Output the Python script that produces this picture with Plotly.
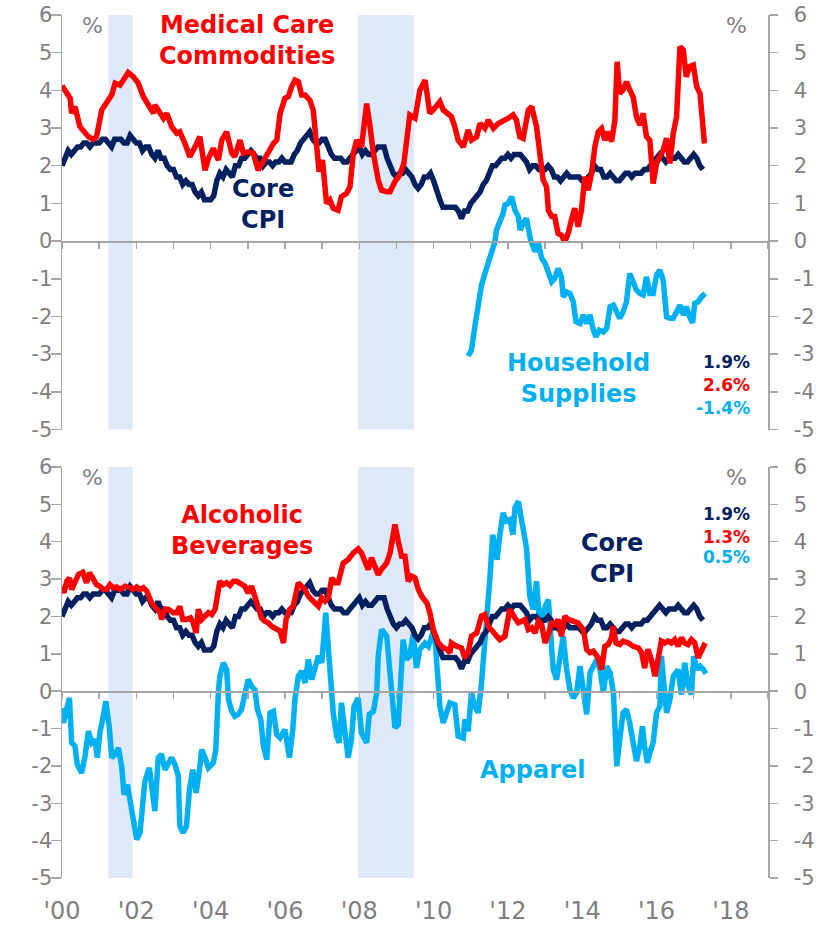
import plotly.graph_objects as go

# ---------------- DATA ----------------
core_start = 2000.0
core_cpi = [
    2.0, 2.2, 2.4, 2.3, 2.4, 2.5, 2.5, 2.6, 2.6, 2.5, 2.6, 2.6,
    2.6, 2.7, 2.7, 2.6, 2.5, 2.7, 2.7, 2.7, 2.6, 2.6, 2.8, 2.7,
    2.6, 2.6, 2.4, 2.5, 2.5, 2.3, 2.2, 2.4, 2.2, 2.2, 2.0, 1.9,
    1.9, 1.7, 1.7, 1.5, 1.6, 1.5, 1.5, 1.3, 1.2, 1.3, 1.1, 1.1,
    1.1, 1.2, 1.6, 1.8, 1.7, 1.9, 1.8, 1.7, 2.0, 2.0, 2.2, 2.2,
    2.3, 2.4, 2.3, 2.2, 2.2, 2.0, 2.1, 2.1, 2.0, 2.1, 2.1, 2.2,
    2.1, 2.1, 2.1, 2.3, 2.4, 2.6, 2.7, 2.8, 2.9, 2.7, 2.6, 2.6,
    2.7, 2.7, 2.5, 2.3, 2.2, 2.2, 2.2, 2.1, 2.1, 2.2, 2.3, 2.4,
    2.5, 2.3, 2.4, 2.3, 2.3, 2.4, 2.5, 2.5, 2.5, 2.2, 2.0, 1.8,
    1.7, 1.8, 1.8, 1.9, 1.8, 1.7, 1.5, 1.4, 1.5, 1.7, 1.7, 1.8,
    1.6, 1.3, 1.1, 0.9, 0.9, 0.9, 0.9, 0.9, 0.8, 0.6, 0.8, 0.8,
    1.0, 1.1, 1.2, 1.3, 1.5, 1.6, 1.8, 2.0, 2.0, 2.1, 2.2, 2.2,
    2.3, 2.2, 2.3, 2.3, 2.3, 2.2, 2.1, 1.9, 2.0, 2.0, 1.9, 1.9,
    1.9, 2.0, 1.9, 1.7, 1.7, 1.6, 1.7, 1.8, 1.7, 1.7, 1.7, 1.7,
    1.6, 1.6, 1.7, 1.8, 2.0, 1.9, 1.9, 1.7, 1.7, 1.8, 1.7, 1.6,
    1.6, 1.7, 1.8, 1.8, 1.7, 1.8, 1.8, 1.8, 1.9, 1.9, 2.0, 2.1,
    2.2, 2.3, 2.2, 2.1, 2.2, 2.2, 2.2, 2.3, 2.2, 2.1, 2.1, 2.2,
    2.3, 2.2, 2.0, 1.9,
]
core_dates = [core_start + i / 12 for i in range(len(core_cpi))]

med_dates = [
    2000.00, 2000.13, 2000.22, 2000.26, 2000.35, 2000.48, 2000.62, 2000.71, 2000.84, 2000.93,
    2001.07, 2001.20, 2001.34, 2001.43, 2001.56, 2001.65, 2001.78, 2001.92, 2002.05, 2002.19,
    2002.32, 2002.46, 2002.50, 2002.64, 2002.73, 2002.82, 2002.95, 2003.09, 2003.17, 2003.31,
    2003.44, 2003.58, 2003.71, 2003.85, 2003.94, 2004.07, 2004.21, 2004.30, 2004.43, 2004.57,
    2004.65, 2004.79, 2004.88, 2005.01, 2005.15, 2005.28, 2005.42, 2005.55, 2005.69, 2005.78,
    2005.87, 2006.00, 2006.09, 2006.18, 2006.27, 2006.36, 2006.45, 2006.54, 2006.67, 2006.76,
    2006.85, 2006.92, 2007.01, 2007.12, 2007.21, 2007.30, 2007.43, 2007.52, 2007.66, 2007.75,
    2007.84, 2007.93, 2008.06, 2008.20, 2008.29, 2008.38, 2008.51, 2008.60, 2008.74, 2008.83,
    2008.96, 2009.09, 2009.20, 2009.28, 2009.36, 2009.50, 2009.63, 2009.77, 2009.90, 2009.99,
    2010.08, 2010.17, 2010.26, 2010.35, 2010.48, 2010.57, 2010.66, 2010.80, 2010.93, 2011.02,
    2011.16, 2011.25, 2011.38, 2011.47, 2011.61, 2011.74, 2011.87, 2012.01, 2012.14, 2012.23,
    2012.32, 2012.41, 2012.55, 2012.64, 2012.77, 2012.86, 2012.95, 2013.04, 2013.09, 2013.18,
    2013.26, 2013.35, 2013.44, 2013.53, 2013.62, 2013.71, 2013.80, 2013.89, 2013.98, 2014.07,
    2014.16, 2014.25, 2014.34, 2014.43, 2014.52, 2014.61, 2014.70, 2014.79, 2014.88, 2014.94,
    2015.01, 2015.10, 2015.19, 2015.28, 2015.37, 2015.46, 2015.55, 2015.64, 2015.73, 2015.82,
    2015.91, 2016.00, 2016.09, 2016.18, 2016.27, 2016.36, 2016.45, 2016.54, 2016.63, 2016.72,
    2016.80, 2016.89, 2016.99, 2017.08, 2017.17, 2017.21, 2017.29,
]
med_care = [
    4.12, 3.92, 3.79, 3.39, 3.57, 3.04, 2.86, 2.77, 2.70, 2.77,
    3.48, 3.70, 3.88, 4.19, 4.14, 4.27, 4.47, 4.36, 4.19, 3.83,
    3.61, 3.39, 3.61, 3.39, 3.26, 3.39, 3.04, 2.86, 2.90, 2.59,
    2.24, 2.50, 2.77, 1.88, 2.19, 2.46, 2.15, 2.68, 2.90, 2.33,
    2.24, 2.68, 2.33, 2.37, 2.33, 1.88, 2.15, 2.37, 2.59, 2.68,
    3.39, 3.79, 3.83, 4.10, 4.27, 4.23, 3.88, 3.88, 3.74, 3.48,
    2.42, 1.84, 2.15, 1.00, 1.09, 0.87, 0.82, 1.18, 1.27, 1.44,
    2.33, 2.68, 2.50, 3.65, 3.04, 2.33, 1.62, 1.35, 1.31, 1.31,
    1.58, 1.75, 2.06, 2.68, 3.35, 3.26, 4.00, 4.27, 3.39, 3.48,
    3.57, 3.70, 3.48, 3.39, 3.30, 3.04, 2.68, 2.50, 2.95, 2.68,
    2.77, 3.12, 2.99, 3.21, 2.99, 3.12, 3.17, 3.26, 3.35, 3.21,
    2.77, 2.73, 3.48, 3.57, 3.04, 2.42, 1.62, 1.44, 0.82, 0.65,
    0.65, 0.20, 0.16, -0.02, 0.20, 0.56, 0.87, 0.38, 0.82, 1.71,
    1.35, 1.80, 2.50, 2.90, 2.99, 2.68, 2.90, 2.64, 3.21, 4.76,
    3.92, 4.01, 4.23, 4.01, 3.83, 3.30, 3.08, 3.39, 2.77, 2.68,
    1.53, 2.06, 2.24, 2.42, 2.73, 2.06, 2.86, 3.30, 5.16, 5.07,
    4.36, 4.63, 4.67, 4.10, 3.92, 3.57, 2.59,
]

hh_dates = [
    2010.93, 2011.02, 2011.11, 2011.20, 2011.29, 2011.38, 2011.47, 2011.56, 2011.65, 2011.69,
    2011.78, 2011.87, 2011.92, 2012.01, 2012.10, 2012.19, 2012.28, 2012.33, 2012.41, 2012.50,
    2012.61, 2012.73, 2012.82, 2012.91, 2013.00, 2013.09, 2013.18, 2013.26, 2013.35, 2013.44,
    2013.49, 2013.58, 2013.67, 2013.76, 2013.83, 2013.94, 2014.03, 2014.12, 2014.21, 2014.30,
    2014.37, 2014.46, 2014.57, 2014.66, 2014.75, 2014.84, 2014.93, 2015.01, 2015.10, 2015.19,
    2015.28, 2015.37, 2015.46, 2015.55, 2015.64, 2015.73, 2015.82, 2015.91, 2016.00, 2016.09,
    2016.18, 2016.27, 2016.36, 2016.45, 2016.54, 2016.63, 2016.72, 2016.80, 2016.89, 2016.97,
    2017.03, 2017.12, 2017.21, 2017.31,
]
household = [
    -3.05, -2.89, -2.27, -1.65, -1.17, -0.86, -0.55, -0.33, -0.02, 0.29,
    0.47, 0.73, 0.96, 1.00, 1.18, 0.82, 0.65, 0.29, 0.47, 0.60,
    0.03, -0.28, -0.06, -0.46, -0.59, -0.86, -1.08, -0.99, -0.73, -0.95,
    -1.48, -1.35, -1.39, -1.61, -2.14, -2.19, -1.96, -2.19, -1.96, -2.36,
    -2.54, -2.36, -2.41, -2.32, -1.74, -1.70, -1.92, -2.05, -1.88, -1.61,
    -0.86, -1.08, -1.30, -1.39, -1.43, -0.95, -1.39, -1.39, -0.90, -0.77,
    -1.04, -2.01, -2.05, -2.05, -1.83, -1.70, -1.96, -1.74, -2.01, -2.17,
    -1.65, -1.61, -1.48, -1.39,
]

alc_dates = [
    2000.00, 2000.05, 2000.13, 2000.20, 2000.26, 2000.35, 2000.44, 2000.56, 2000.66, 2000.74,
    2000.83, 2000.93, 2001.02, 2001.11, 2001.20, 2001.29, 2001.38, 2001.47, 2001.56, 2001.70,
    2001.83, 2001.92, 2002.01, 2002.10, 2002.19, 2002.28, 2002.41, 2002.50, 2002.64, 2002.68,
    2002.77, 2002.86, 2003.00, 2003.09, 2003.17, 2003.25, 2003.35, 2003.46, 2003.53, 2003.61,
    2003.67, 2003.76, 2003.85, 2003.94, 2004.03, 2004.12, 2004.21, 2004.25, 2004.34, 2004.43,
    2004.52, 2004.61, 2004.70, 2004.79, 2004.92, 2005.01, 2005.10, 2005.19, 2005.28, 2005.37,
    2005.46, 2005.55, 2005.64, 2005.78, 2005.87, 2005.96, 2006.03, 2006.13, 2006.22, 2006.36,
    2006.45, 2006.54, 2006.63, 2006.72, 2006.81, 2006.90, 2006.99, 2007.08, 2007.17, 2007.26,
    2007.35, 2007.43, 2007.57, 2007.70, 2007.84, 2007.97, 2008.06, 2008.15, 2008.24, 2008.33,
    2008.42, 2008.51, 2008.60, 2008.74, 2008.83, 2008.96, 2009.05, 2009.14, 2009.23, 2009.32,
    2009.41, 2009.50, 2009.59, 2009.68, 2009.82, 2009.90, 2009.99, 2010.13, 2010.26, 2010.35,
    2010.44, 2010.48, 2010.62, 2010.75, 2010.84, 2010.93, 2011.02, 2011.16, 2011.29, 2011.38,
    2011.47, 2011.56, 2011.70, 2011.78, 2011.92, 2012.05, 2012.19, 2012.28, 2012.37, 2012.46,
    2012.55, 2012.64, 2012.73, 2012.82, 2012.91, 2013.00, 2013.09, 2013.18, 2013.26, 2013.35,
    2013.44, 2013.53, 2013.62, 2013.76, 2013.89, 2014.03, 2014.12, 2014.21, 2014.30, 2014.43,
    2014.52, 2014.61, 2014.70, 2014.79, 2014.83, 2014.91, 2015.01, 2015.10, 2015.24, 2015.37,
    2015.51, 2015.60, 2015.68, 2015.77, 2015.86, 2015.96, 2016.04, 2016.13, 2016.22, 2016.31,
    2016.40, 2016.49, 2016.58, 2016.67, 2016.76, 2016.85, 2016.94, 2017.03, 2017.12, 2017.21,
    2017.31,
]
alcohol = [
    2.81, 2.63, 2.94, 3.03, 2.72, 2.90, 3.12, 3.18, 2.90, 3.17,
    3.03, 2.85, 2.81, 2.72, 2.72, 2.85, 2.77, 2.79, 2.72, 2.81,
    2.77, 2.72, 2.79, 2.72, 2.77, 2.68, 2.36, 2.27, 2.10, 1.92,
    2.19, 2.19, 2.10, 2.10, 2.27, 1.92, 1.92, 1.96, 1.83, 1.56,
    2.19, 1.92, 2.01, 2.10, 2.05, 2.19, 2.72, 2.94, 2.85, 2.90,
    2.83, 2.94, 2.94, 2.90, 2.81, 2.63, 2.81, 2.54, 2.19, 1.96,
    1.87, 1.83, 1.74, 1.65, 1.61, 1.29, 1.92, 2.19, 2.27, 2.90,
    2.81, 2.72, 2.54, 2.45, 2.36, 2.27, 2.50, 2.41, 2.50, 3.03,
    2.90, 2.90, 3.43, 3.52, 3.70, 3.81, 3.70, 3.52, 3.26, 3.57,
    3.35, 3.12, 3.26, 3.43, 3.70, 4.46, 4.01, 3.61, 3.61, 2.94,
    3.08, 3.03, 2.72, 2.54, 2.36, 2.10, 1.65, 1.29, 1.16, 1.12,
    1.03, 1.29, 1.20, 1.16, 0.89, 1.03, 1.47, 1.56, 2.01, 2.05,
    1.74, 1.65, 1.47, 1.38, 1.47, 2.19, 1.96, 1.83, 1.87, 1.92,
    1.65, 1.70, 1.56, 1.87, 1.78, 1.29, 1.52, 1.87, 1.74, 1.92,
    1.47, 2.01, 1.92, 1.87, 1.83, 1.65, 1.12, 1.03, 1.07, 0.89,
    0.58, 1.20, 1.25, 1.43, 1.74, 1.29, 1.25, 1.34, 1.29, 1.20,
    1.16, 1.03, 0.62, 1.12, 0.85, 0.40, 0.89, 1.34, 1.29, 1.34,
    1.29, 1.38, 1.20, 1.43, 1.29, 1.25, 1.38, 1.29, 0.89, 1.12,
    1.29,
]

app_dates = [
    2000.00, 2000.04, 2000.11, 2000.20, 2000.26, 2000.35, 2000.41, 2000.53, 2000.62, 2000.71,
    2000.80, 2000.89, 2000.95, 2001.02, 2001.11, 2001.18, 2001.27, 2001.34, 2001.43, 2001.52,
    2001.61, 2001.67, 2001.76, 2001.85, 2001.92, 2002.01, 2002.10, 2002.17, 2002.23, 2002.35,
    2002.41, 2002.50, 2002.59, 2002.68, 2002.77, 2002.86, 2002.95, 2003.04, 2003.13, 2003.17,
    2003.26, 2003.35, 2003.43, 2003.52, 2003.61, 2003.70, 2003.76, 2003.85, 2003.94, 2004.07,
    2004.14, 2004.21, 2004.25, 2004.34, 2004.43, 2004.48, 2004.57, 2004.65, 2004.74, 2004.83,
    2004.90, 2005.01, 2005.10, 2005.19, 2005.26, 2005.35, 2005.42, 2005.51, 2005.60, 2005.69,
    2005.78, 2005.87, 2006.00, 2006.12, 2006.21, 2006.27, 2006.36, 2006.45, 2006.54, 2006.63,
    2006.72, 2006.81, 2006.90, 2006.99, 2007.10, 2007.17, 2007.23, 2007.30, 2007.39, 2007.46,
    2007.52, 2007.61, 2007.70, 2007.79, 2007.86, 2007.97, 2008.06, 2008.20, 2008.27, 2008.38,
    2008.47, 2008.51, 2008.60, 2008.74, 2008.83, 2008.96, 2009.05, 2009.18, 2009.27, 2009.36,
    2009.45, 2009.54, 2009.63, 2009.77, 2009.86, 2009.95, 2010.04, 2010.13, 2010.17, 2010.26,
    2010.35, 2010.44, 2010.57, 2010.66, 2010.80, 2010.84, 2010.93, 2011.02, 2011.11, 2011.20,
    2011.29, 2011.43, 2011.52, 2011.59, 2011.65, 2011.71, 2011.78, 2011.87, 2011.96, 2012.05,
    2012.14, 2012.19, 2012.28, 2012.37, 2012.50, 2012.59, 2012.68, 2012.77, 2012.86, 2013.00,
    2013.09, 2013.18, 2013.22, 2013.31, 2013.40, 2013.49, 2013.58, 2013.67, 2013.76, 2013.85,
    2013.94, 2014.03, 2014.12, 2014.21, 2014.30, 2014.39, 2014.48, 2014.57, 2014.66, 2014.75,
    2014.84, 2014.93, 2015.01, 2015.10, 2015.19, 2015.28, 2015.37, 2015.46, 2015.55, 2015.62,
    2015.68, 2015.75, 2015.82, 2015.91, 2016.00, 2016.09, 2016.13, 2016.22, 2016.27, 2016.36,
    2016.45, 2016.58, 2016.67, 2016.76, 2016.85, 2016.94, 2017.00, 2017.09, 2017.17, 2017.26,
    2017.33,
]
apparel = [
    -0.45, -0.85, -0.54, -0.18, -1.38, -1.47, -1.96, -2.19, -1.74, -1.07,
    -1.38, -1.29, -1.78, -1.12, -0.67, -0.27, -0.94, -1.78, -1.69, -1.52,
    -2.05, -2.77, -2.50, -3.08, -3.43, -3.97, -3.79, -3.17, -2.41, -2.05,
    -2.63, -3.21, -1.78, -1.69, -2.10, -1.92, -1.78, -1.96, -2.27, -3.61,
    -3.79, -3.61, -2.63, -2.10, -2.72, -2.10, -1.56, -1.78, -2.05, -1.92,
    -1.56, 0.00, 0.40, 0.76, 0.58, -0.22, -0.54, -0.67, -0.62, -0.49,
    -0.18, 0.31, 0.13, 0.04, -0.49, -0.76, -1.47, -1.83, -0.58, -0.54,
    -1.16, -1.25, -1.03, -1.78, -1.03, -0.22, 0.40, 0.54, 0.22, 0.85,
    0.31, 0.58, 0.94, 0.76, 2.10, 1.12, 0.04, -0.58, -1.20, -1.38,
    -0.31, -1.20, -1.78, -1.29, -0.40, -0.18, -1.12, -1.38, -0.62, -0.54,
    -0.04, 0.94, 1.65, 1.47, 0.31, -0.98, -0.89, 1.38, 0.85, 0.94,
    1.52, 0.62, 1.12, 1.29, 1.20, 1.47, 1.38, -0.04, -0.40, -0.85,
    -0.54, -0.31, -0.36, -1.20, -1.25, -0.76, -1.07, -0.04, -0.40, -0.58,
    0.22, 1.83, 3.08, 4.19, 3.88, 3.52, 4.15, 4.77, 4.55, 4.59,
    4.19, 4.91, 5.08, 4.50, 3.84, 2.54, 2.19, 2.94, 1.74, 2.27,
    2.45, 1.12, 0.58, 0.31, 1.03, 1.47, 0.58, 0.04, -0.18, -0.04,
    0.67, 0.04, -0.62, 0.49, 0.67, 0.85, 0.58, -0.04, 0.67, 0.49,
    -0.04, -2.01, -1.29, -0.58, -0.49, -0.85, -1.38, -1.87, -1.47, -0.94,
    -1.47, -1.92, -1.65, -1.38, -0.58, -0.40, 0.94, 0.04, -0.58, -0.22,
    0.40, 0.58, -0.09, 0.76, 0.13, -0.09, 0.94, 0.58, 0.67, 0.58,
    0.47,
]

recessions = [(2001.25, 2001.90), (2007.97, 2009.47)]
y_ticks = [-5, -4, -3, -2, -1, 0, 1, 2, 3, 4, 5, 6]
y_tick_text = [str(v) for v in y_ticks]  # hyphen-minus as in the original
x_label_years = list(range(2000, 2019, 2))
x_label_text = ["'%02d" % (y % 100) for y in x_label_years]
x_tick_years = list(range(2000, 2020))

# ---------------- STYLE ----------------
NAVY = "#002060"
RED = "#FF0000"
CYAN = "#00B0F0"
GRAY_TXT = "#7F7F7F"
GRAY_LINE = "#A6A6A6"
SHADE = "#DEE8F6"
FONT = "DejaVu Sans"
LW = 5.5

W, H = 823, 926
M_L, M_R, M_T, M_B = 62, 55, 15, 48
plot_h = H - M_T - M_B
top_dom = [(878 - 429.5) / plot_h, 1.0]
bot_dom = [0.0, (878 - 467) / plot_h]
YR = [-5, 6]
XR = [2000, 2019]


def zero_pos(dom):
    return dom[0] + (0 - YR[0]) / (YR[1] - YR[0]) * (dom[1] - dom[0])


fig = go.Figure()

# top panel
fig.add_trace(go.Scatter(x=hh_dates, y=household, mode="lines",
                         line=dict(color=CYAN, width=LW), xaxis="x", yaxis="y"))
fig.add_trace(go.Scatter(x=core_dates, y=core_cpi, mode="lines",
                         line=dict(color=NAVY, width=LW), xaxis="x", yaxis="y"))
fig.add_trace(go.Scatter(x=med_dates, y=med_care, mode="lines",
                         line=dict(color=RED, width=LW), xaxis="x", yaxis="y"))
# bottom panel
fig.add_trace(go.Scatter(x=app_dates, y=apparel, mode="lines",
                         line=dict(color=CYAN, width=LW), xaxis="x2", yaxis="y2"))
fig.add_trace(go.Scatter(x=core_dates, y=core_cpi, mode="lines",
                         line=dict(color=NAVY, width=LW), xaxis="x2", yaxis="y2"))
fig.add_trace(go.Scatter(x=alc_dates, y=alcohol, mode="lines",
                         line=dict(color=RED, width=LW), xaxis="x2", yaxis="y2"))

# empty helper traces so every auxiliary axis gets drawn
for xa, ya in [("x", "y3"), ("x2", "y4"), ("x3", "y"), ("x4", "y2")]:
    fig.add_trace(go.Scatter(x=[], y=[], xaxis=xa, yaxis=ya, hoverinfo="skip"))

yax_common = dict(range=YR, tickvals=y_ticks, ticktext=y_tick_text,
                  ticks="outside", tickwidth=1.5, tickcolor=GRAY_LINE,
                  showline=True, linecolor=GRAY_LINE, linewidth=1.5,
                  showgrid=False, zeroline=False, automargin=False,
                  tickfont=dict(family=FONT, size=21, color=GRAY_TXT),
                  fixedrange=True)
yax_left = dict(yax_common, side="left", ticklen=10, ticklabelstandoff=-6)
yax_right = dict(yax_common, side="right", ticklen=8, ticklabelstandoff=12)
xax_hidden = dict(range=XR, showline=False, showgrid=False, zeroline=False,
                  showticklabels=False, ticks="", automargin=False)
xax_zero = dict(range=XR, tickvals=x_tick_years, ticks="outside", ticklen=6,
                tickwidth=1.5, tickcolor=GRAY_LINE, showline=True,
                linecolor=GRAY_LINE, linewidth=1.5, showgrid=False,
                zeroline=False, showticklabels=False, anchor="free",
                automargin=False)

shapes = []
for (a, b) in recessions:
    for xr, yr in [("x", "y domain"), ("x2", "y2 domain")]:
        shapes.append(dict(type="rect", xref=xr, yref=yr, x0=a, x1=b, y0=0, y1=1,
                           fillcolor=SHADE, line=dict(width=0), layer="below"))


def ann(text, x, y, color, size, xref, yref, xanchor="center", bold=True):
    return dict(text=("<b>%s</b>" % text) if bold else text, x=x, y=y,
                xref=xref, yref=yref, showarrow=False, xanchor=xanchor,
                yanchor="middle", align="center" if xanchor == "center" else "right",
                font=dict(family=FONT, size=size, color=color))


annotations = [
    ann("Medical Care<br>Commodities", 2004.98, 5.33, RED, 24, "x", "y"),
    ann("Core<br>CPI", 2005.41, 0.98, NAVY, 24, "x", "y"),
    ann("Household<br>Supplies", 2013.89, -3.64, CYAN, 24, "x", "y"),
    ann("1.9%", 2018.57, -3.21, NAVY, 17, "x", "y", "right"),
    ann("2.6%", 2018.57, -3.82, RED, 17, "x", "y", "right"),
    ann("-1.4%", 2018.57, -4.43, CYAN, 17, "x", "y", "right"),
    ann("%", 2000.81, 5.73, GRAY_TXT, 22, "x", "y", bold=False),
    ann("%", 2018.16, 5.73, GRAY_TXT, 22, "x", "y", bold=False),
    ann("Alcoholic<br>Beverages", 2004.84, 4.30, RED, 24, "x2", "y2"),
    ann("Core<br>CPI", 2014.80, 3.55, NAVY, 24, "x2", "y2"),
    ann("Apparel", 2012.65, -2.10, CYAN, 24, "x2", "y2"),
    ann("1.9%", 2018.57, 4.73, NAVY, 17, "x2", "y2", "right"),
    ann("1.3%", 2018.57, 4.14, RED, 17, "x2", "y2", "right"),
    ann("0.5%", 2018.57, 3.58, CYAN, 17, "x2", "y2", "right"),
    ann("%", 2000.81, 5.72, GRAY_TXT, 22, "x2", "y2", bold=False),
    ann("%", 2018.16, 5.72, GRAY_TXT, 22, "x2", "y2", bold=False),
]

fig.update_layout(
    width=W, height=H,
    margin=dict(l=M_L, r=M_R, t=M_T, b=M_B, pad=0, autoexpand=False),
    paper_bgcolor="white", plot_bgcolor="white",
    showlegend=False,
    font=dict(family=FONT),
    xaxis=dict(**xax_hidden, domain=[0, 1], anchor="y"),
    xaxis2=dict(range=XR, domain=[0, 1], anchor="y2", tickvals=x_label_years,
                ticktext=x_label_text, ticks="", showline=False, showgrid=False,
                zeroline=False, ticklabelstandoff=16, automargin=False,
                tickfont=dict(family=FONT, size=24, color=GRAY_TXT)),
    xaxis3=dict(**xax_zero, overlaying="x", position=zero_pos(top_dom)),
    xaxis4=dict(**xax_zero, overlaying="x2", position=zero_pos(bot_dom)),
    yaxis=dict(**yax_left, domain=top_dom, anchor="x"),
    yaxis3=dict(**yax_right, overlaying="y", anchor="x"),
    yaxis2=dict(**yax_left, domain=bot_dom, anchor="x2"),
    yaxis4=dict(**yax_right, overlaying="y2", anchor="x2"),
    shapes=shapes,
    annotations=annotations,
)

fig.write_html("out.html",
               config={"displayModeBar": False, "staticPlot": True},
               post_script="document.body.style.margin='0px';"
                           "document.body.style.padding='0px';")
